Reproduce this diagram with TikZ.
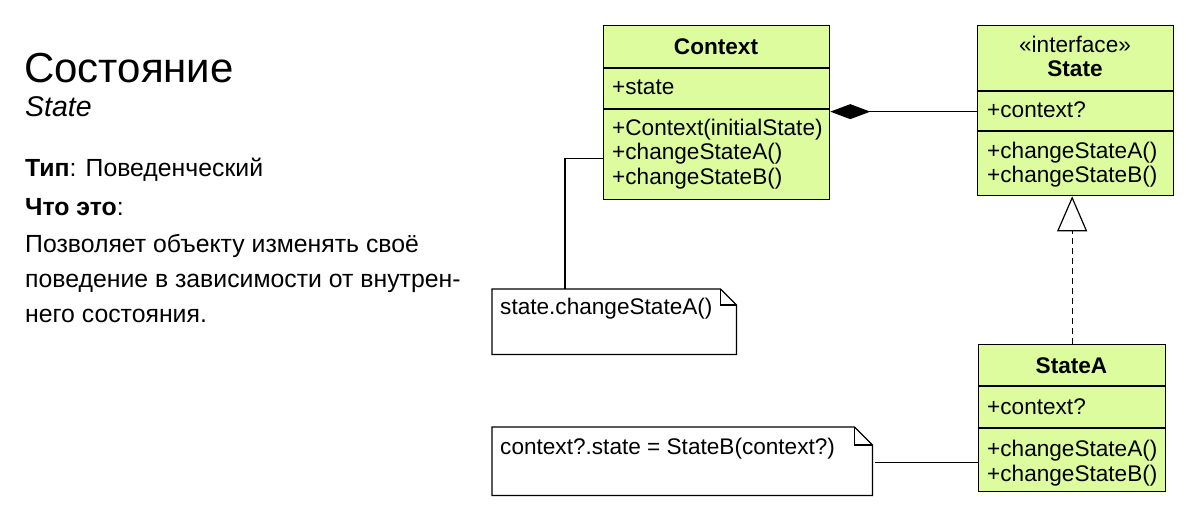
\documentclass[tikz,border=0pt]{standalone}
\usepackage{fontspec}
\setmainfont{Liberation Sans}
\usetikzlibrary{arrows.meta,calc}
\definecolor{umlfill}{RGB}{221,252,158}
\begin{document}
\begin{tikzpicture}[x=1pt,y=-1pt,
  cls/.style={draw, line width=1.3pt, fill=umlfill, inner sep=0pt, anchor=north west},
  sep/.style={line width=1.3pt},
  mem/.style={anchor=base west, inner sep=0pt, font=\fontsize{22.6}{26}\selectfont},
  hdr/.style={inner sep=0pt, font=\bfseries\fontsize{22.6}{26}\selectfont},
  notebox/.style={inner sep=0pt, anchor=north west},
  noteline/.style={draw, line width=1.2pt, fill=white},
  body/.style={anchor=base west, inner sep=0pt, font=\fontsize{24.8}{28}\selectfont},
  conn/.style={line width=1.2pt}
]
\useasboundingbox (0,0) rectangle (1193,517);

% ---------- left text ----------
\node[anchor=base west, inner sep=0pt, font=\fontsize{42}{48}\selectfont] (title) at (24,82) {Состояние};
\node[anchor=base west, inner sep=0pt, font=\itshape\fontsize{28.5}{32}\selectfont] (sub) at (25,116) {State};
\node[body] (typ) at (25,176) {\textbf{Тип}: Поведенческий};
\node[body] (what) at (25,215) {\textbf{Что это}:};
\node[body] (l1) at (25,252) {Позволяет объекту изменять своё};
\node[body] (l2) at (25,287) {поведение в зависимости от внутрен-};
\node[body] (l3) at (25,322) {него состояния.};

% ---------- Context ----------
\node[cls, minimum width=226pt, minimum height=174pt] (ctx) at (603,25) {};
\draw[sep] ([yshift=-43pt]ctx.north west) -- ([yshift=-43pt]ctx.north east);
\draw[sep] ([yshift=-84pt]ctx.north west) -- ([yshift=-84pt]ctx.north east);
\node[hdr] (ctxname) at (716,47) {Context};
\node[mem] (ctxa) at (612,94) {+state};
\node[mem] (ctxm1) at (612,135) {+Context(initialState)};
\node[mem] (ctxm2) at (612,159) {+changeStateA()};
\node[mem] (ctxm3) at (612,184) {+changeStateB()};

% ---------- State ----------
\node[cls, minimum width=196pt, minimum height=170pt] (st) at (977,25) {};
\draw[sep] ([yshift=-66pt]st.north west) -- ([yshift=-66pt]st.north east);
\draw[sep] ([yshift=-106pt]st.north west) -- ([yshift=-106pt]st.north east);
\node[inner sep=0pt, font=\fontsize{22.6}{26}\selectfont] (ster) at (1075,44) {«interface»};
\node[hdr] (stname) at (1075,69) {State};
\node[mem] (sta) at (987,117) {+context?};
\node[mem] (stm1) at (987,158) {+changeStateA()};
\node[mem] (stm2) at (987,182) {+changeStateB()};

% ---------- StateA ----------
\node[cls, minimum width=187pt, minimum height=147pt] (sa) at (978,344) {};
\draw[sep] ([yshift=-42pt]sa.north west) -- ([yshift=-42pt]sa.north east);
\draw[sep] ([yshift=-84pt]sa.north west) -- ([yshift=-84pt]sa.north east);
\node[hdr] (saname) at (1071.5,366) {StateA};
\node[mem] (saa) at (987,414) {+context?};
\node[mem] (sam1) at (987,456) {+changeStateA()};
\node[mem] (sam2) at (987,481) {+changeStateB()};

% ---------- note 1 ----------
\node[notebox, minimum width=244pt, minimum height=65pt] (n1) at (492,289) {};
\draw[noteline] (n1.north west) -- ([xshift=-16pt]n1.north east) -- ([yshift=-16pt]n1.north east)
   -- (n1.south east) -- (n1.south west) -- cycle;
\draw[line width=1.2pt] ([xshift=-16pt]n1.north east) |- ([yshift=-16pt]n1.north east);
\node[anchor=base west, inner sep=0pt, font=\fontsize{22.6}{26}\selectfont] (n1t) at (500,314) {state.changeStateA()};

% ---------- note 2 ----------
\node[notebox, minimum width=380pt, minimum height=68pt] (n2) at (492,427) {};
\draw[noteline] (n2.north west) -- ([xshift=-18pt]n2.north east) -- ([yshift=-18pt]n2.north east)
   -- (n2.south east) -- (n2.south west) -- cycle;
\draw[line width=1.2pt] ([xshift=-18pt]n2.north east) |- ([yshift=-18pt]n2.north east);
\node[anchor=base west, inner sep=0pt, font=\fontsize{22.6}{26}\selectfont] (n2t) at (500,454) {context?.state = StateB(context?)};

% ---------- connectors ----------
\draw[conn] ([xshift=73pt]n1.north west) |- ([yshift=-46pt]ctx.west);
\draw[conn, {Diamond[length=40pt,width=15pt]}-] ([yshift=1pt]ctx.east) -- ([yshift=1pt]ctx.east -| st.west);
\draw[conn, dashed, dash pattern=on 6pt off 4pt, -{Triangle[open, length=35pt, width=30pt, line width=1.2pt]}]
   (sa.north) -- (sa.north |- st.south);
\draw[conn] ([xshift=3pt,yshift=-1pt]n2.east) -- ([yshift=-1pt]n2.east -| sa.west);
\end{tikzpicture}
\end{document}
